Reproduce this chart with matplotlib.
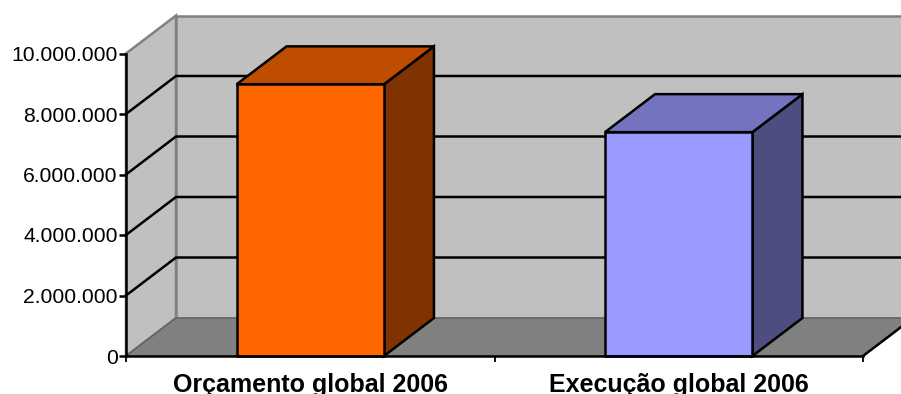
import matplotlib
matplotlib.use("Agg")
import matplotlib.pyplot as plt
from matplotlib.patches import Polygon
from matplotlib.ticker import FuncFormatter
from matplotlib.transforms import Affine2D

categories = ["Orçamento global 2006", "Execução global 2006"]
values = [8980000, 7400000]
face_colors = ["#FF6600", "#9999FF"]
top_colors = ["#BF4D00", "#7373BF"]
side_colors = ["#803300", "#4D4D80"]
y_ticks = [0, 2000000, 4000000, 6000000, 8000000, 10000000]

W, H = 901, 394
DX, DY = 50, 38
LW = 1.8
plt.rcParams["font.family"] = ["Liberation Sans", "DejaVu Sans"]

fig = plt.figure(figsize=(W / 100, H / 100), dpi=100)
ax = fig.add_axes([126 / W, (H - 356) / H, 737 / W, 302.5 / H])
ax.set_xlim(0, 2)
ax.set_ylim(0, 10000000)
ax.patch.set_visible(False)

back = ax.transData + Affine2D().translate(DX, DY)
data = ax.transData


def poly(pts_front, pts_back, fc, ec, lw=LW, z=1):
    # Outline made of corners on the front plane followed by corners on the back plane
    disp = [data.transform(p) for p in pts_front] + [back.transform(p) for p in pts_back]
    ax.add_patch(Polygon(disp, closed=True, facecolor=fc, edgecolor=ec, linewidth=lw,
                         transform=None, clip_on=False, zorder=z, joinstyle="miter"))


top = y_ticks[-1]
# Walls and floor
poly([(0, 0), (0, top)], [(0, top), (0, 0)], "#C0C0C0", "#808080", z=1)
poly([], [(0, 0), (0, top), (2, top), (2, 0)], "#C0C0C0", "#808080", z=1)
poly([(0, 0), (2, 0)], [(2, 0), (0, 0)], "#808080", "#606060", lw=1.0, z=1.5)
# Right floor edge in black
ax.plot([data.transform((2, 0))[0], back.transform((2, 0))[0]],
        [data.transform((2, 0))[1], back.transform((2, 0))[1]],
        color="black", lw=LW, transform=None, clip_on=False, zorder=2)
# Gridlines along side wall and back wall
for v in y_ticks[1:-1]:
    a, b, c = data.transform((0, v)), back.transform((0, v)), back.transform((2, v))
    ax.plot([a[0], b[0], c[0]], [a[1], b[1], c[1]], color="black", lw=LW,
            transform=None, clip_on=False, zorder=2, solid_joinstyle="miter")

# 3D bars
for i, v in enumerate(values):
    x0, x1 = i + 0.3, i + 0.7
    poly([(x1, 0), (x1, v)], [(x1, v), (x1, 0)], side_colors[i], "black", z=3)
    poly([(x0, v), (x1, v)], [(x1, v), (x0, v)], top_colors[i], "black", z=3)
    ax.bar(i + 0.5, v, width=0.4, color=face_colors[i], edgecolor="black",
           linewidth=LW, zorder=4, clip_on=False)

for s in ("top", "right"):
    ax.spines[s].set_visible(False)
for s in ("left", "bottom"):
    ax.spines[s].set_linewidth(LW)
    ax.spines[s].set_zorder(5)

ax.set_yticks(y_ticks)
ax.yaxis.set_major_formatter(FuncFormatter(lambda v, _: f"{int(v):,}".replace(",", ".")))
ax.tick_params(axis="y", length=5, width=LW, labelsize=15.2, pad=1)
ax.set_xticks([0, 1, 2])
ax.set_xticklabels([])
ax.tick_params(axis="x", which="major", length=4.5, width=1.3)
ax.set_xticks([0.5, 1.5], minor=True)
ax.set_xticklabels(categories, minor=True, fontweight="bold", fontsize=18)
ax.tick_params(axis="x", which="minor", length=0, pad=12.5)

fig.savefig("out.png", dpi=100)
